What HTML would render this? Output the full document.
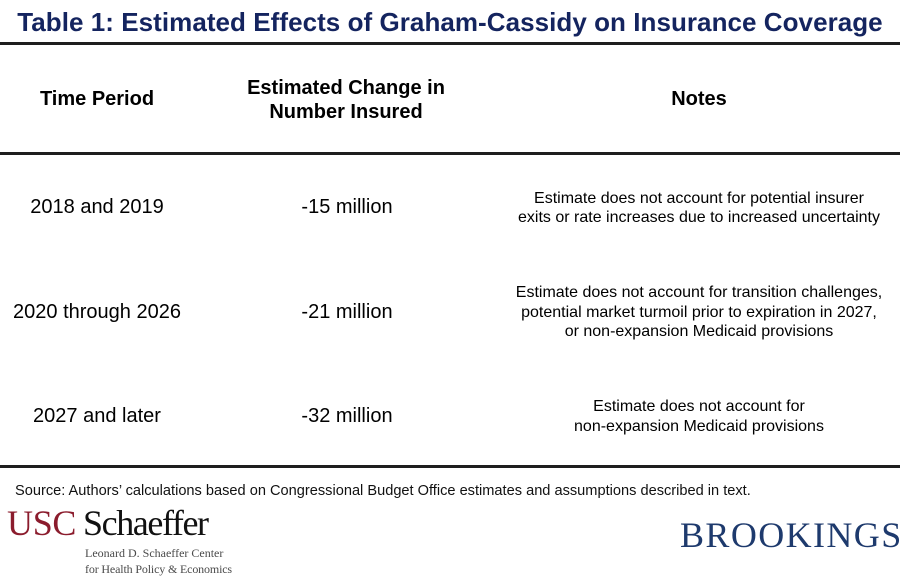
<!DOCTYPE html>
<html>
<head>
<meta charset="utf-8">
<style>
  html, body { margin:0; padding:0; }
  body { width:900px; height:577px; position:relative; overflow:hidden; background:#fff; }
  .t { position:absolute; white-space:nowrap; text-align:center; font-family:"Liberation Sans", Arial, sans-serif; color:#000; }
  .rule { position:absolute; left:0; width:900px; height:3px; background:#1e1e1e; }
  .serif { font-family:"Liberation Serif", "Times New Roman", serif; }
</style>
</head>
<body>
  <!-- Title -->
  <div class="t" style="left:0; width:900px; top:7px; line-height:30px; font-size:26px; font-weight:bold; color:#14245f; letter-spacing:0.05px;">Table 1: Estimated Effects of Graham-Cassidy on Insurance Coverage</div>
  <div class="rule" style="top:42px;"></div>

  <!-- Header -->
  <div class="t" style="left:-3px; width:200px; top:87px; line-height:24px; font-size:20px; font-weight:bold;">Time Period</div>
  <div class="t" style="left:196px; width:300px; top:75.5px; line-height:24px; font-size:20px; font-weight:bold;">Estimated Change in<br>Number Insured</div>
  <div class="t" style="left:549px; width:300px; top:87px; line-height:24px; font-size:20px; font-weight:bold;">Notes</div>
  <div class="rule" style="top:152px;"></div>

  <!-- Row 1 -->
  <div class="t" style="left:-3px; width:200px; top:195px; line-height:24px; font-size:20px;">2018 and 2019</div>
  <div class="t" style="left:197px; width:300px; top:195px; line-height:24px; font-size:20px;">-15 million</div>
  <div class="t" style="left:499px; width:400px; top:189px; line-height:19px; font-size:16px;">Estimate does not account for potential insurer<br>exits or rate increases due to increased uncertainty</div>

  <!-- Row 2 -->
  <div class="t" style="left:-3px; width:200px; top:300px; line-height:24px; font-size:20px;">2020 through 2026</div>
  <div class="t" style="left:197px; width:300px; top:300px; line-height:24px; font-size:20px;">-21 million</div>
  <div class="t" style="left:499px; width:400px; top:283px; line-height:19.5px; font-size:16px;">Estimate does not account for transition challenges,<br>potential market turmoil prior to expiration in 2027,<br>or non-expansion Medicaid provisions</div>

  <!-- Row 3 -->
  <div class="t" style="left:-3px; width:200px; top:404px; line-height:24px; font-size:20px;">2027 and later</div>
  <div class="t" style="left:197px; width:300px; top:404px; line-height:24px; font-size:20px;">-32 million</div>
  <div class="t" style="left:499px; width:400px; top:397px; line-height:19.5px; font-size:16px;">Estimate does not account for<br>non-expansion Medicaid provisions</div>

  <div class="rule" style="top:465px;"></div>

  <!-- Source -->
  <div class="t" style="left:15px; top:480.5px; line-height:20px; font-size:14.6px; text-align:left; color:#111;">Source: Authors’ calculations based on Congressional Budget Office estimates and assumptions described in text.</div>

  <!-- USC Schaeffer logo -->
  <div class="t serif" style="left:7px; top:503px; line-height:40px; font-size:36px; text-align:left; color:#8b1c2d; letter-spacing:-0.3px;">USC</div>
  <div class="t serif" style="left:83px; top:503px; line-height:40px; font-size:36px; text-align:left; color:#111; letter-spacing:-1.4px;">Schaeffer</div>
  <div class="t serif" style="left:85px; top:545px; line-height:16px; font-size:12px; text-align:left; color:#4a4a4a;">Leonard D. Schaeffer Center</div>
  <div class="t serif" style="left:85px; top:561px; line-height:16px; font-size:12px; text-align:left; color:#4a4a4a; letter-spacing:-0.15px;">for Health Policy &amp; Economics</div>

  <!-- Brookings -->
  <div class="t serif" style="left:680px; top:515px; line-height:40px; font-size:36px; text-align:left; color:#1e3a6d; letter-spacing:1.4px;">BROOKINGS</div>
</body>
</html>
